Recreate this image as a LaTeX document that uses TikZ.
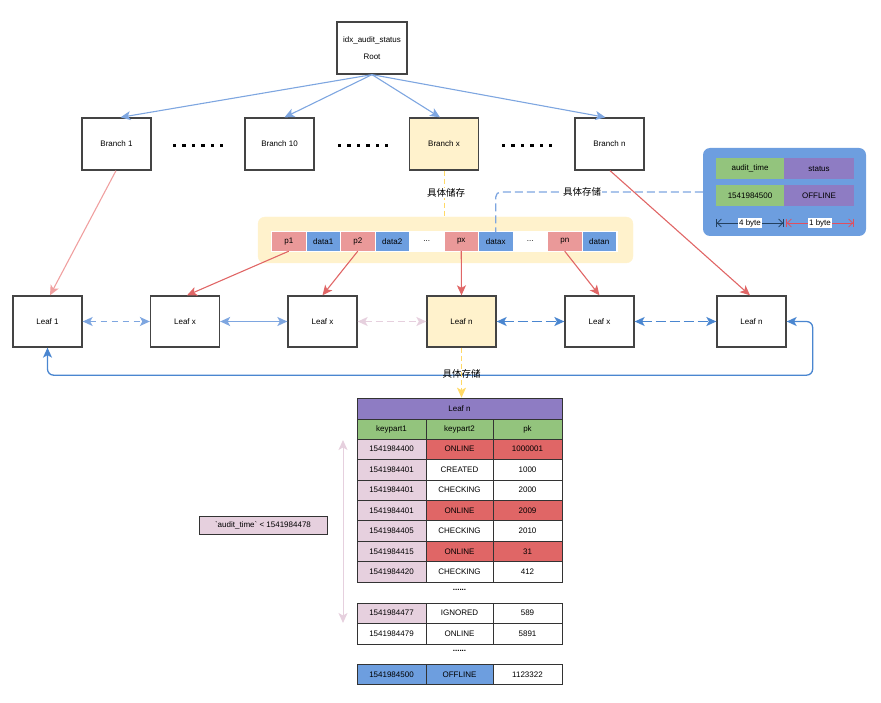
\documentclass[tikz,border=0pt]{standalone}
\usepackage{fontspec}
\setmainfont{Liberation Sans}
\newfontfamily\cjk{Noto Sans CJK SC}
\usetikzlibrary{arrows.meta,calc}
\definecolor{lblue}{HTML}{7EA6E0}
\definecolor{mblue}{HTML}{6D9EDF}
\definecolor{dblue}{HTML}{4A86D0}
\definecolor{cpink}{HTML}{EA9999}
\definecolor{rred}{HTML}{E06666}
\definecolor{lred}{HTML}{F0A0A0}
\definecolor{yfill}{HTML}{FFF2CC}
\definecolor{yline}{HTML}{FFD966}
\definecolor{lpink}{HTML}{E6D0DE}
\definecolor{cpurple}{HTML}{8E7CC3}
\definecolor{cgreen}{HTML}{93C47D}
\definecolor{boxgray}{HTML}{444444}
\definecolor{tgray}{HTML}{333333}
\definecolor{navy}{HTML}{23405F}
\definecolor{dimred}{HTML}{E04F5F}
\begin{document}
\begin{tikzpicture}[x=1pt,y=-1pt,
  every node/.style={font=\fontsize{8}{9.6}\selectfont},
  nbox/.style={draw=boxgray, line width=1.3pt, fill=white, minimum width=69pt, minimum height=52pt, inner sep=0pt},
  cell/.style={minimum width=33.5pt, minimum height=19pt, inner sep=0pt},
  tcell/.style={draw=tgray, line width=0.7pt, minimum height=20.45pt, inner sep=0pt},
  icell/.style={minimum height=21pt, inner sep=0pt},
  tip/.style={-{Stealth[length=10pt,width=9pt,inset=2.5pt]}},
  dtip/.style={{Stealth[length=10pt,width=9pt,inset=2.5pt]}-{Stealth[length=10pt,width=9pt,inset=2.5pt]}},
  barr/.style={draw=lblue, line width=1.1pt, tip},
  rarr/.style={draw=rred, line width=1.1pt, tip},
  cjklabel/.style={font=\cjk\fontsize{9.5}{11}\selectfont, inner sep=1pt},
]
\path[use as bounding box] (0,0) rectangle (881,703);

% root and branches
\node[nbox, minimum width=70pt, align=center] (root) at (372,48) {idx\_audit\_status\\[7pt]Root};
\node[nbox] (b1) at (116.5,144) {Branch 1};
\node[nbox] (b10) at (279.5,144) {Branch 10};
\node[nbox, fill=yfill] (bx) at (444,144) {Branch x};
\node[nbox] (bn) at (609.5,144) {Branch n};

\foreach \sx in {173,338,502}{
  \foreach \i in {0,...,5}{
    \fill[black] (\sx+\i*9.4,144) rectangle ++(3.4,3.4);
  }
}

\draw[barr] (root.south) -- ([xshift=4pt]b1.north);
\draw[barr] (root.south) -- ([xshift=5pt]b10.north);
\draw[barr] (root.south) -- ([xshift=-4pt]bx.north);
\draw[barr] (root.south) -- ([xshift=-4pt]bn.north);

% pointer panel
\node[draw=yfill, fill=yfill, rounded corners=7pt, minimum width=375pt, minimum height=46pt] (panel) at (445.5,240) {};
\fill[white] (271,231) rectangle (618,252);
\node[cell, fill=cpink] (p1) at (288.75,241.5) {p1};
\node[cell, fill=mblue] (d1) at (323.25,241.5) {data1};
\node[cell, fill=cpink] (p2) at (357.75,241.5) {p2};
\node[cell, fill=mblue] (d2) at (392.25,241.5) {data2};
\node[cell, fill=white] (e1) at (426.75,241.5) {...};
\node[cell, fill=cpink] (px) at (461.25,241.5) {px};
\node[cell, fill=mblue] (dx) at (495.75,241.5) {datax};
\node[cell, fill=white] (e2) at (530.25,241.5) {...};
\node[cell, fill=cpink] (pn) at (564.75,241.5) {pn};
\node[cell, fill=mblue] (dn) at (599.25,241.5) {datan};

% blue info box
\node[fill=mblue, rounded corners=7pt, minimum width=163pt, minimum height=88pt] (bb) at (784.5,192) {};
\node[icell, fill=cgreen, minimum width=68pt] (c1) at (750,168.5) {audit\_time};
\node[icell, fill=cpurple, minimum width=70pt] (c2) at (819,168.5) {status};
\node[icell, fill=cgreen, minimum width=68pt] (c3) at (750,195.5) {1541984500};
\node[icell, fill=cpurple, minimum width=70pt] (c4) at (819,195.5) {OFFLINE};
\coordinate (dm1) at (716,223);
\coordinate (dm2) at (784,223);
\coordinate (dm3) at (786,223);
\coordinate (dm4) at (854,223);
\draw[navy, line width=0.8pt, {Bar[width=8pt]Straight Barb[length=4pt]}-{Straight Barb[length=4pt]Bar[width=8pt]}] (dm1) -- (dm2) node[midway, fill=white, text=black, inner sep=1pt] (lb4) {4 byte};
\draw[dimred, line width=0.8pt, {Bar[width=8pt]Straight Barb[length=4pt]}-{Straight Barb[length=4pt]Bar[width=8pt]}] (dm3) -- (dm4) node[midway, fill=white, text=black, inner sep=1pt] (lb1) {1 byte};

% storage links
\draw[yline, line width=1pt, dash pattern=on 5pt off 3pt] (bx.south) -- (bx.south |- panel.north);
\node[cjklabel, fill=white] (s1) at (446,193) {具体储存};
\draw[lblue, line width=1.3pt, dash pattern=on 8pt off 4pt, rounded corners=5pt] (bb.west) -| (dx.north);
\node[cjklabel, fill=white] (s2) at (582,192) {具体存储};

% leaves
\node[nbox, minimum height=51pt] (l1) at (47.5,321.5) {Leaf 1};
\node[nbox, minimum height=51pt] (l2) at (185,321.5) {Leaf x};
\node[nbox, minimum height=51pt] (l3) at (322.5,321.5) {Leaf x};
\node[nbox, minimum height=51pt, fill=yfill] (l4) at (461.5,321.5) {Leaf n};
\node[nbox, minimum height=51pt] (l5) at (599.5,321.5) {Leaf x};
\node[nbox, minimum height=51pt] (l6) at (751.5,321.5) {Leaf n};

% red pointers
\draw[draw=lred, line width=1.1pt, tip] ([xshift=-0.5pt]b1.south) -- ([xshift=2.5pt]l1.north);
\draw[rarr] (p1.south) -- ([xshift=2pt]l2.north);
\draw[rarr] (p2.south) -- (l3.north);
\draw[rarr] (px.south) -- (l4.north);
\draw[rarr] (pn.south) -- (l5.north);
\draw[rarr] ([xshift=0.5pt]bn.south) -- ([xshift=-1.5pt]l6.north);

% leaf links
\draw[lblue, line width=1.3pt, dash pattern=on 6pt off 5pt, dtip] (l1.east) -- (l2.west);
\draw[lblue, line width=1.5pt, dtip] (l2.east) -- (l3.west);
\draw[lpink, line width=1.3pt, dash pattern=on 7pt off 4pt, dtip] (l3.east) -- (l4.west);
\draw[dblue, line width=1.3pt, dash pattern=on 10pt off 4pt, dtip] (l4.east) -- (l5.west);
\draw[dblue, line width=1.3pt, dash pattern=on 10pt off 4pt, dtip] (l5.east) -- (l6.west);
\draw[dblue, line width=1.3pt, rounded corners=6pt, dtip] (l6.east) -- ++(26,0) |- ($(l1.south)+(0,27.5)$) -- (l1.south);

% table
\node[tcell, fill=cpurple, minimum width=205pt, minimum height=21pt] (hdr) at (459.5,408.5) {Leaf n};
\draw[yline, line width=1pt, dash pattern=on 5pt off 3pt, tip] (l4.south) -- (l4.south |- hdr.north);
\node[cjklabel] (s3) at (461.5,373.5) {具体存储};

\newcommand\trow[8]{%
  \node[tcell, fill=#3, minimum width=69pt] (#1a) at (391.5,#2) {#4};
  \node[tcell, fill=#5, minimum width=67pt] (#1b) at (459.5,#2) {#6};
  \node[tcell, fill=#7, minimum width=69pt] (#1c) at (527.5,#2) {#8};}
\node[tcell, fill=cgreen, minimum width=69pt, minimum height=20pt] (h1) at (391.5,429) {keypart1};
\node[tcell, fill=cgreen, minimum width=67pt, minimum height=20pt] (h2) at (459.5,429) {keypart2};
\node[tcell, fill=cgreen, minimum width=69pt, minimum height=20pt] (h3) at (527.5,429) {pk};
\trow{ra}{449.2}{lpink}{1541984400}{rred}{ONLINE}{rred}{1000001}
\trow{rb}{469.7}{lpink}{1541984401}{white}{CREATED}{white}{1000}
\trow{rc}{490.1}{lpink}{1541984401}{white}{CHECKING}{white}{2000}
\trow{rd}{510.6}{lpink}{1541984401}{rred}{ONLINE}{rred}{2009}
\trow{re}{531.0}{lpink}{1541984405}{white}{CHECKING}{white}{2010}
\trow{rf}{551.5}{lpink}{1541984415}{rred}{ONLINE}{rred}{31}
\trow{rg}{571.9}{lpink}{1541984420}{white}{CHECKING}{white}{412}
\node[font=\bfseries\fontsize{8}{9.6}\selectfont] (dots1) at (459.5,590) {......};
\trow{rh}{613.2}{lpink}{1541984477}{white}{IGNORED}{white}{589}
\trow{ri}{633.7}{white}{1541984479}{white}{ONLINE}{white}{5891}
\node[font=\bfseries\fontsize{8}{9.6}\selectfont] (dots2) at (459.5,651) {......};
\trow{rj}{674.5}{mblue}{1541984500}{mblue}{OFFLINE}{white}{1123322}

% range arrow and condition
\coordinate (vt) at (343,440);
\coordinate (vb) at (343,623);
\draw[lpink, line width=1pt, dtip] (vt) -- (vb);
\node[draw=tgray, line width=0.7pt, fill=lpink, minimum width=128pt, minimum height=18pt, inner sep=0pt] (cond) at (263,525) {\textasciigrave audit\_time\textasciigrave{} < 1541984478};
\end{tikzpicture}
\end{document}
